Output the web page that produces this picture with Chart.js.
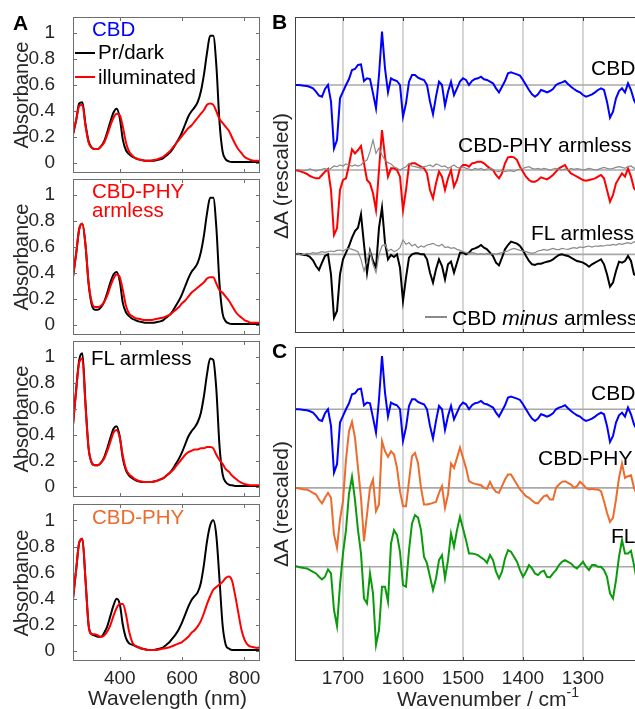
<!DOCTYPE html>
<html>
<head>
<meta charset="utf-8">
<script src="https://cdn.jsdelivr.net/npm/chart.js@4.4.1/dist/chart.umd.min.js"></script>
<style>
  html, body { margin: 0; padding: 0; overflow: hidden; background: #fff; }
  body { position: relative; width: 635px; height: 709px; font-family: "Liberation Sans", Arial, sans-serif; }
  canvas { position: absolute; }
  .lbl { position: absolute; white-space: nowrap; line-height: 1; }
</style>
</head>
<body>
<script>
// ===== Panel A: absorbance spectra =====
const wl = [250, 260, 270, 280, 290, 300, 310, 320, 330, 340,
  350, 360, 370, 380, 390, 400, 410, 420, 430, 440,
  450, 460, 470, 480, 490, 500, 510, 520, 530, 540,
  550, 560, 570, 580, 590, 600, 610, 620, 630, 640,
  650, 660, 670, 680, 690, 700, 710, 720, 730, 740,
  750, 760, 770, 780, 790, 800, 810, 820, 830, 840, 850];
const wlTicks = [400, 600, 800];
const absTicks = [0, 0.2, 0.4, 0.6, 0.8, 1];

const cbdDark = [0.22, 0.33, 0.46, 0.47, 0.30, 0.17, 0.12, 0.11, 0.11, 0.13,
  0.17, 0.24, 0.32, 0.39, 0.42, 0.35, 0.18, 0.10, 0.07, 0.05,
  0.04, 0.03, 0.025, 0.02, 0.02, 0.02, 0.02, 0.025, 0.03, 0.04,
  0.06, 0.08, 0.11, 0.15, 0.19, 0.24, 0.30, 0.36, 0.40, 0.43,
  0.47, 0.55, 0.68, 0.85, 0.98, 0.98, 0.75, 0.32, 0.09, 0.03,
  0.015, 0.01, 0.01, 0.01, 0.01, 0.01, 0.01, 0.01, 0.01, 0.01, 0.01];
const cbdLight = [0.23, 0.33, 0.44, 0.45, 0.29, 0.16, 0.12, 0.11, 0.11, 0.13,
  0.16, 0.22, 0.29, 0.35, 0.38, 0.37, 0.28, 0.16, 0.09, 0.06,
  0.04, 0.03, 0.025, 0.02, 0.02, 0.02, 0.025, 0.03, 0.04, 0.05,
  0.07, 0.09, 0.12, 0.15, 0.18, 0.21, 0.24, 0.27, 0.29, 0.32,
  0.35, 0.38, 0.41, 0.45, 0.46, 0.45, 0.40, 0.34, 0.31, 0.28,
  0.25, 0.20, 0.15, 0.11, 0.08, 0.05, 0.035, 0.025, 0.02, 0.02, 0.02];

const armDark = [0.37, 0.55, 0.74, 0.78, 0.62, 0.32, 0.16, 0.12, 0.12, 0.14,
  0.18, 0.25, 0.33, 0.39, 0.41, 0.34, 0.17, 0.10, 0.07, 0.05,
  0.04, 0.03, 0.025, 0.02, 0.02, 0.02, 0.02, 0.025, 0.03, 0.04,
  0.06, 0.08, 0.11, 0.15, 0.19, 0.24, 0.30, 0.36, 0.41, 0.44,
  0.48, 0.56, 0.69, 0.86, 0.98, 0.98, 0.75, 0.32, 0.09, 0.03,
  0.015, 0.01, 0.01, 0.01, 0.01, 0.01, 0.01, 0.01, 0.01, 0.01, 0.01];
const armLight = [0.37, 0.55, 0.74, 0.78, 0.62, 0.33, 0.18, 0.14, 0.14, 0.15,
  0.18, 0.23, 0.30, 0.36, 0.39, 0.37, 0.27, 0.15, 0.09, 0.07,
  0.055, 0.05, 0.045, 0.04, 0.04, 0.04, 0.045, 0.05, 0.055, 0.06,
  0.07, 0.08, 0.10, 0.12, 0.14, 0.17, 0.19, 0.22, 0.25, 0.27,
  0.29, 0.31, 0.33, 0.36, 0.37, 0.37, 0.32, 0.27, 0.25, 0.22,
  0.19, 0.15, 0.11, 0.08, 0.06, 0.04, 0.03, 0.02, 0.02, 0.02, 0.02];

const flDark = [0.48, 0.75, 0.98, 1.03, 0.65, 0.30, 0.19, 0.17, 0.17, 0.19,
  0.23, 0.30, 0.38, 0.45, 0.47, 0.39, 0.22, 0.13, 0.09, 0.07,
  0.055, 0.045, 0.04, 0.04, 0.04, 0.04, 0.045, 0.05, 0.06, 0.07,
  0.09, 0.11, 0.14, 0.18, 0.22, 0.27, 0.33, 0.39, 0.43, 0.46,
  0.50, 0.57, 0.70, 0.87, 0.99, 0.98, 0.75, 0.32, 0.10, 0.04,
  0.02, 0.015, 0.01, 0.01, 0.01, 0.01, 0.01, 0.01, 0.01, 0.01, 0.01];
const flLight = [0.48, 0.74, 0.96, 0.99, 0.63, 0.30, 0.19, 0.17, 0.17, 0.19,
  0.22, 0.28, 0.35, 0.42, 0.44, 0.38, 0.24, 0.14, 0.10, 0.08,
  0.06, 0.05, 0.045, 0.04, 0.04, 0.04, 0.045, 0.05, 0.06, 0.07,
  0.09, 0.11, 0.13, 0.16, 0.19, 0.22, 0.25, 0.27, 0.28, 0.29,
  0.29, 0.30, 0.30, 0.31, 0.31, 0.30, 0.25, 0.21, 0.18, 0.14,
  0.12, 0.09, 0.07, 0.05, 0.035, 0.025, 0.02, 0.015, 0.015, 0.015, 0.015];

const phyDark = [0.40, 0.62, 0.83, 0.86, 0.55, 0.20, 0.13, 0.12, 0.11, 0.11,
  0.14, 0.19, 0.27, 0.35, 0.40, 0.36, 0.20, 0.10, 0.06, 0.05,
  0.04, 0.03, 0.02, 0.015, 0.01, 0.01, 0.01, 0.015, 0.02, 0.03,
  0.05, 0.07, 0.10, 0.13, 0.17, 0.22, 0.28, 0.34, 0.39, 0.42,
  0.45, 0.52, 0.66, 0.84, 0.96, 1.0, 0.88, 0.55, 0.20, 0.05,
  0.02, 0.01, 0.01, 0.01, 0.01, 0.01, 0.01, 0.01, 0.01, 0.01, 0.01];
const phyLight = [0.40, 0.62, 0.83, 0.86, 0.55, 0.20, 0.13, 0.13, 0.12, 0.11,
  0.12, 0.15, 0.20, 0.27, 0.33, 0.36, 0.36, 0.28, 0.15, 0.07,
  0.04, 0.03, 0.02, 0.015, 0.01, 0.01, 0.01, 0.01, 0.015, 0.02,
  0.025, 0.03, 0.04, 0.05, 0.06, 0.07, 0.09, 0.11, 0.14, 0.16,
  0.19, 0.23, 0.29, 0.36, 0.42, 0.47, 0.49, 0.51, 0.53, 0.56,
  0.57, 0.54, 0.43, 0.30, 0.17, 0.09, 0.05, 0.035, 0.03, 0.025, 0.03];

// ===== Panels B/C: IR difference spectra (rescaled) =====
const wn = [1780, 1775, 1770, 1765, 1760, 1755, 1750, 1745, 1740, 1735,
  1730, 1725, 1720, 1715, 1710, 1705, 1700, 1695, 1690, 1685,
  1680, 1675, 1670, 1665, 1660, 1655, 1650, 1645, 1640, 1635,
  1630, 1625, 1620, 1615, 1610, 1605, 1600, 1595, 1590, 1585,
  1580, 1575, 1570, 1565, 1560, 1555, 1550, 1545, 1540, 1535,
  1530, 1525, 1520, 1515, 1510, 1505, 1500, 1495, 1490, 1485,
  1480, 1475, 1470, 1465, 1460, 1455, 1450, 1445, 1440, 1435,
  1430, 1425, 1420, 1415, 1410, 1405, 1400, 1395, 1390, 1385,
  1380, 1375, 1370, 1365, 1360, 1355, 1350, 1345, 1340, 1335,
  1330, 1325, 1320, 1315, 1310, 1305, 1300, 1295, 1290, 1285,
  1280, 1275, 1270, 1265, 1260, 1255, 1250, 1245, 1240, 1235,
  1230, 1225, 1220, 1215, 1210];
const wnTicks = [1700, 1600, 1500, 1400, 1300];

const irCbd = [0, 0, -1, -2, -3, -6, -10, -20, -32, -35,
  -12, 0, -50, -190, -165, -40, -20, 0, 18, 45,
  48, 60, 62, 12, 20, 18, -25, -70, 30, 160,
  50, -22, 20, 15, 12, 0, -95, -55, 10, 30,
  30, 22, 18, 15, 0, -50, -88, -35, 10, 0,
  -62, -20, 10, -30, -10, 10, 20, 15, 0, 12,
  18, 20, 25, 17, 15, 10, 5, -10, -22, -5,
  12, 35, 38, 35, 32, 28, 15, 0, -15, -28,
  -35, -28, -15, -18, -22, -18, -12, 0, 5, 8,
  12, 3, -5, -12, -18, -22, -30, -35, -32, -28,
  -22, -15, -10, -15, -50, -98, -80, -40, -18, -10,
  -22, 5, -15, -45, -62];
const irArmless = [0, -2, -5, -8, -12, -18, -22, -25, -25, -15,
  -5, 3, -60, -195, -175, -60, -30, -25, 15, 62,
  50, 60, 72, 20, -30, -40, -70, -120, 0, 120,
  40, -20, 5, 5, 0, -20, -120, -60, 15, 20,
  20, 15, 10, 5, -10, -60, -85, -40, -5, -20,
  -60, -25, 0, -50, -30, 5, 15, 15, 10, 20,
  22, 25, 25, 20, 12, 5, 0, -15, -25, -10,
  20, 38, 40, 38, 30, 10, -5, -20, -30, -35,
  -35, -30, -22, -25, -28, -22, -15, -5, 5, 10,
  15, 0, -10, -15, -20, -25, -30, -32, -30, -28,
  -25, -20, -15, -25, -60, -95, -75, -40, -25, -10,
  -20, 5, -20, -55, -65];
const irArmlessDiff = [0, 2, 0, -2, 0, 3, 0, -3, 0, 2,
  5, 0, 5, 12, 10, 15, 12, 18, 15, 12,
  15, 12, 15, 25, 30, 55, 90, 50, 66, 45,
  30, 22, 18, 10, 5, 0, 5, 10, 20, 12,
  10, 8, 5, 10, 12, 15, 10, 18, 15, 10,
  12, 5, 10, 15, 8, 5, 10, 5, 3, 0,
  5, 2, 5, 0, 3, 5, 0, -3, -5, 0,
  -5, -3, -2, -5, 0, 3, 5, 8, 10, 5,
  3, 5, 2, 5, 3, 0, 3, 5, 2, 0,
  3, 0, 5, 2, 4, 3, 0, 2, 5, 3,
  0, 2, 5, 8, 5, 3, 5, 8, 10, 8,
  5, 10, 12, 5, 8];
const irFlArmless = [0, 2, 0, -2, -3, -8, -18, -35, -47, -25,
  -5, 0, -60, -190, -170, -60, -15, 5, 25, 50,
  70, 80, 120, 30, -55, 10, -20, -40, 80, 140,
  35, -15, -2, -8, 0, -40, -140, -70, -10, 0,
  3, 3, 0, 0, -15, -55, -85, -45, -15, -35,
  -75, -30, -22, -55, -25, 5, 5, 0, 5, 15,
  18, 22, 28, 20, 15, 5, -5, -25, -33, -10,
  15, 28, 38, 35, 32, 25, 12, -5, -20, -30,
  -32, -28, -28, -25, -22, -20, -15, -8, -2, 0,
  -3, -5, -10, -15, -20, -22, -25, -30, -37, -30,
  -25, -20, -15, -30, -60, -97, -85, -50, -22, -25,
  -20, -5, -20, -60, -65];
const irFlDiff = [0, 2, -2, 0, 3, 2, 5, 3, 5, 8,
  6, 8, 10, 8, 12, 13, 10, 15, 18, 15,
  12, 8, -15, -50, -20, 10, -30, -55, 0, 25,
  30, 10, 15, 8, 12, 20, 43, 30, 35, 25,
  30, 20, 25, 22, 28, 30, 33, 28, 25, 30,
  20, 22, 18, 20, 15, 12, 8, 5, 3, 5,
  3, 0, 2, 0, 3, 0, 2, 0, 3, 5,
  8, 10, 15, 18, 15, 12, 10, 8, 5, 3,
  5, 10, 12, 15, 12, 15, 18, 15, 14, 18,
  16, 15, 18, 20, 18, 22, 20, 23, 25, 22,
  25, 24, 26, 25, 28, 27, 30, 28, 32, 30,
  33, 35, 32, 38, 33];
const irCbdPhy = [0, -1, -3, -5, -5, -10, -15, -20, -35, -47,
  -30, -15, -30, -140, -180, -95, -40, 85, 170, 198,
  150, 60, -30, -160, -80, 0, 25, -70, -50, 140,
  110, 93, 110, 100, 60, -10, -55, -55, 20, 95,
  105, 75, 0, -50, -50, -48, -45, -42, -15, 5,
  -60, -20, 73, 60, 90, 121, 90, 60, 20, 15,
  12, 10, 8, 0, -3, 18, 0, -12, -15, 5,
  25, 40, 40, 25, 10, -5, -15, -25, -30, -38,
  -45, -47, -35, -25, -22, -35, -35, 0, 10, 18,
  20, 15, 10, 0, 5, 18, 10, 0, -5, -3,
  -5, -5, -10, -40, -75, -102, -90, -35, 30, 73,
  30, 35, 38, 0, -20];
const irFl = [2, 0, -2, -4, -5, -10, -15, -20, -30, -38,
  -30, -8, -20, -130, -178, -55, 40, 110, 220, 270,
  200, 110, 40, -95, -110, -20, -80, -235, -190, -60,
  -60, -105, 70, 110, 95, 45, -55, -60, 50, 130,
  155, 148, 110, 30, 10, -30, -70, -35, 20, 35,
  -35, 20, 100, 60, 110, 150, 115, 80, 40, 40,
  38, 35, 28, 22, 12, 35, 20, -15, -35, -15,
  25, 50, 45, 30, 15, -10, -30, -15, 5, -5,
  -20, -25, -15, -12, -30, -32, -20, -10, 5, 15,
  20, 15, 10, 0, -5, 5, 15, 0, -10, 5,
  5, 0, 0, -10, -30, -80, -95, -40, 30, 80,
  40, 40, 48, 5, -45];

// trace offsets inside the stacked panels
const offB = { cbd: 744, armless: 489, fl: 236 };
const offC = { cbd: 756, phy: 520, fl: 283 };

const FONT = '"Liberation Sans", Arial, sans-serif';
const RED = '#ff0000', BLUE = '#0000ff', ORANGE = '#ec6b2d', GREEN = '#0b9a0b', GRAY = '#8a8a8a';
const PAD = 24; // room for tick label overflow around each box

// box with inward ticks + horizontal zero lines
const framePlugin = {
  id: 'frame',
  beforeDatasetsDraw(chart, args, o) {
    if (!o.baselines) return;
    const { ctx, chartArea: a } = chart, y = chart.scales.y;
    ctx.save();
    ctx.strokeStyle = '#a8a8a8';
    ctx.lineWidth = 1.6;
    o.baselines.forEach(v => {
      const py = y.getPixelForValue(v);
      ctx.beginPath(); ctx.moveTo(a.left, py); ctx.lineTo(a.right, py); ctx.stroke();
    });
    ctx.restore();
  },
  afterDraw(chart, args, o) {
    const { ctx, chartArea: a } = chart, x = chart.scales.x, y = chart.scales.y;
    ctx.save();
    ctx.strokeStyle = o.color;
    ctx.lineWidth = 1;
    ctx.strokeRect(a.left + 0.5, a.top + 0.5, a.right - a.left - 1, a.bottom - a.top - 1);
    ctx.beginPath();
    x.ticks.forEach(t => {
      const px = Math.round(x.getPixelForValue(t.value)) + 0.5;
      ctx.moveTo(px, a.bottom); ctx.lineTo(px, a.bottom - o.len);
      ctx.moveTo(px, a.top); ctx.lineTo(px, a.top + o.len);
    });
    if (o.yTicks) {
      y.ticks.forEach(t => {
        const py = Math.round(y.getPixelForValue(t.value)) + 0.5;
        ctx.moveTo(a.left, py); ctx.lineTo(a.left + o.len, py);
        ctx.moveTo(a.right, py); ctx.lineTo(a.right - o.len, py);
      });
    }
    ctx.stroke();
    ctx.restore();
  }
};

function makeCanvas(left, top, w, h) {
  const c = document.createElement('canvas');
  c.width = w; c.height = h;
  c.style.left = left + 'px'; c.style.top = top + 'px';
  c.style.width = w + 'px'; c.style.height = h + 'px';
  document.body.appendChild(c);
  return c;
}

function series(xs, ys, color, width, off) {
  return {
    data: xs.map((x, i) => ({ x: x, y: ys[i] + (off || 0) })),
    borderColor: color, borderWidth: width, pointRadius: 0, fill: false
  };
}

// ---- absorbance panels ----
const absPanels = [
  { top: 17, bottom: 173, dark: cbdDark, light: cbdLight },
  { top: 179, bottom: 335, dark: armDark, light: armLight },
  { top: 341, bottom: 497, dark: flDark, light: flLight },
  { top: 504, bottom: 661, dark: phyDark, light: phyLight, labels: true }
];

absPanels.forEach(p => {
  const h = p.labels ? (709 - p.top + PAD) : (p.bottom - p.top + 2 * PAD);
  const cv = makeCanvas(0, p.top - PAD, 265, h);
  new Chart(cv, {
    type: 'line',
    data: { datasets: [series(wl, p.light, RED, 2), series(wl, p.dark, '#000', 2)] },
    options: {
      responsive: false, animation: false, events: [],
      layout: { padding: { left: 0, right: 5, top: PAD, bottom: p.labels ? 0 : PAD } },
      elements: { line: { tension: 0.4, cubicInterpolationMode: 'monotone' } },
      plugins: { legend: { display: false }, tooltip: { enabled: false },
        frame: { color: '#6e6e6e', len: 4, yTicks: true } },
      scales: {
        x: {
          type: 'linear', min: 250, max: 850,
          afterBuildTicks: s => { s.ticks = wlTicks.map(v => ({ value: v })); },
          afterFit: s => { s.height = p.labels ? 48 : 0; },
          grid: { display: false }, border: { display: false },
          ticks: { display: !!p.labels, autoSkip: false, maxRotation: 0, padding: -2,
            color: '#262626', font: { family: FONT, size: 19 }, callback: v => String(v) }
        },
        y: {
          min: -0.075, max: 1.125,
          afterBuildTicks: s => { s.ticks = absTicks.map(v => ({ value: v })); },
          afterFit: s => { s.width = 73; },
          grid: { display: false }, border: { display: false },
          ticks: { padding: 10, color: '#262626', font: { family: FONT, size: 19 },
            callback: v => String(+v.toFixed(1)) }
        }
      }
    },
    plugins: [framePlugin]
  });
});

// ---- IR panels ----
function irChart(top, height, plotH, showLabels, sets, baselines) {
  const cv = makeCanvas(262, top - 6, 400, height);
  new Chart(cv, {
    type: 'line',
    data: { datasets: sets },
    options: {
      responsive: false, animation: false, events: [],
      layout: { padding: { left: 33, right: 22, top: 6, bottom: showLabels ? 0 : 6 } },
      elements: { line: { tension: 0 } },
      plugins: { legend: { display: false }, tooltip: { enabled: false },
        frame: { color: '#404040', len: 4, yTicks: false, baselines: baselines } },
      scales: {
        x: {
          type: 'linear', min: 1205, max: 1780, reverse: true,
          afterBuildTicks: s => { s.ticks = wnTicks.map(v => ({ value: v })); },
          afterFit: s => { s.height = showLabels ? 48 : 0; },
          grid: { display: true, color: '#d6d6d6', lineWidth: 2, drawTicks: false },
          border: { display: false },
          ticks: { display: showLabels, autoSkip: false, maxRotation: 0, padding: 6,
            color: '#262626', font: { family: FONT, size: 19 }, callback: v => String(v) }
        },
        y: { display: false, min: 0, max: plotH }
      }
    },
    plugins: [framePlugin]
  });
}

irChart(17, 328, 948, false, [
  series(wn, irArmlessDiff, GRAY, 1.2, offB.armless),
  series(wn, irFlDiff, GRAY, 1.2, offB.fl),
  series(wn, irCbd, BLUE, 2, offB.cbd),
  series(wn, irArmless, RED, 2, offB.armless),
  series(wn, irFlArmless, '#000', 2, offB.fl)
], [offB.cbd, offB.armless, offB.fl]);

irChart(347, 368, 943, true, [
  series(wn, irFl, GREEN, 2, offC.fl),
  series(wn, irCbdPhy, ORANGE, 2, offC.phy),
  series(wn, irCbd, BLUE, 2, offC.cbd)
], [offC.cbd, offC.phy, offC.fl]);

// ===== text =====
function text(html, x, cy, size, color, extra) {
  const d = document.createElement('div');
  d.className = 'lbl';
  d.innerHTML = html;
  d.style.left = x + 'px';
  d.style.top = (cy - 0.49 * size) + 'px';
  d.style.fontSize = size + 'px';
  d.style.color = color || '#000';
  if (extra) Object.assign(d.style, extra);
  document.body.appendChild(d);
}
function vtext(html, cx, cy, size, color) {
  const d = document.createElement('div');
  d.className = 'lbl';
  d.innerHTML = html;
  d.style.left = cx + 'px';
  d.style.top = cy + 'px';
  d.style.fontSize = size + 'px';
  d.style.color = color || '#262626';
  d.style.transform = 'translate(-50%, -50%) rotate(-90deg)';
  document.body.appendChild(d);
}
function swatch(x1, x2, y, color, w) {
  const d = document.createElement('div');
  d.style.position = 'absolute';
  d.style.left = x1 + 'px';
  d.style.top = (y - w / 2) + 'px';
  d.style.width = (x2 - x1) + 'px';
  d.style.height = w + 'px';
  d.style.background = color;
  document.body.appendChild(d);
}

text('A', 13, 22, 21, '#000', { fontWeight: 'bold' });
text('B', 272, 21, 21, '#000', { fontWeight: 'bold' });
text('C', 272, 350, 21, '#000', { fontWeight: 'bold' });

absPanels.forEach(p => vtext('Absorbance', 21, (p.top + p.bottom) / 2, 20));
text('Wavelength (nm)', 88, 697, 21, '#262626');

text('CBD', 92, 29.5, 20.5, BLUE);
swatch(75, 95, 52.5, '#000', 2);
text('Pr/dark', 98, 52.5, 20.5, '#000');
swatch(75, 95, 77, RED, 2);
text('illuminated', 98, 77, 20.5, '#000');
text('CBD-PHY', 92, 191.5, 20.5, RED);
text('armless', 92, 210.5, 20.5, RED);
text('FL armless', 91, 358, 20.5, '#000');
text('CBD-PHY', 92, 517, 20.5, ORANGE);

vtext('&Delta;A (rescaled)', 280, 176, 21);
vtext('&Delta;A (rescaled)', 280, 504, 21);
text('Wavenumber / cm<span style="font-size:14px;position:relative;top:-9px">-1</span>', 397, 698, 21, '#262626');

text('CBD', 591, 67, 21, '#000');
text('CBD-PHY armless', 458, 144, 21, '#000');
text('FL armless', 531, 232, 21, '#000');
swatch(425, 447, 317, GRAY, 1.2);
text('CBD <i>minus</i> armless', 452, 317, 21, '#000');
text('CBD', 591, 392, 21, '#000');
text('CBD-PHY', 538, 457, 21, '#000');
text('FL', 611, 535, 21, '#000');
</script>
</body>
</html>
